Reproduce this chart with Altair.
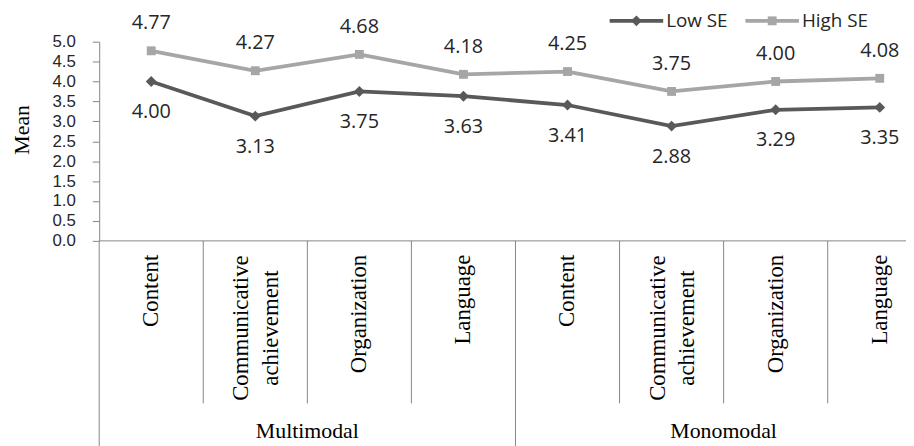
import altair as alt
import pandas as pd

# ---------------- data ----------------
groups = ["Multimodal", "Monomodal"]
criteria = ["Content", "Communicative achievement", "Organization", "Language"]
series = ["Low SE", "High SE"]
low_se = [4.00, 3.13, 3.75, 3.63, 3.41, 2.88, 3.29, 3.35]
high_se = [4.77, 4.27, 4.68, 4.18, 4.25, 3.75, 4.00, 4.08]
y_ticks = [0.0, 0.5, 1.0, 1.5, 2.0, 2.5, 3.0, 3.5, 4.0, 4.5, 5.0]

# ---------------- styling ----------------
W, H = 814, 201
CAT_W = 105.0
X_MAX = W / CAT_W
colors = {"Low SE": "#595959", "High SE": "#A6A6A6"}
shapes = {"Low SE": "diamond", "High SE": "square"}
sizes = {"Low SE": 120, "High SE": 80}
SANS = "Open Sans"
TICK_FONT = "Liberation Sans"
SERIF = "Liberation Serif"
AXIS_GRAY = "#868686"
TEXT = "#262626"

rows = []
cats = []
for gi, g in enumerate(groups):
    for ci, c in enumerate(criteria):
        idx = gi * len(criteria) + ci
        cats.append({"idx": idx, "pos": idx + 0.5, "group": g, "criterion": c,
                     "label": c.replace(" ", "\n"), "multi": 1 if " " in c else 0})
        rows.append({"pos": idx + 0.5, "series": "Low SE", "value": low_se[idx]})
        rows.append({"pos": idx + 0.5, "series": "High SE", "value": high_se[idx]})
df = pd.DataFrame(rows)
cat_df = pd.DataFrame(cats)

xs = alt.Scale(domain=[0, X_MAX], nice=False, zero=False)
ys = alt.Scale(domain=[0, 5], nice=False)
col_scale = alt.Scale(domain=series, range=[colors[s] for s in series])
XQ = alt.X("pos:Q", scale=xs, axis=None)
yaxis = alt.Axis(values=y_ticks, format=".1f", title=None, grid=False,
                 labelOverlap=False, tickCount=11,
                 domainColor=AXIS_GRAY, tickColor=AXIS_GRAY, tickSize=7,
                 labelFont=TICK_FONT, labelFontSize=17, labelColor=TEXT,
                 labelPadding=17)
YQ = alt.Y("value:Q", scale=ys, axis=yaxis)
YN = alt.Y("value:Q", scale=ys, axis=None)

base = alt.Chart(df)

lines = base.mark_line(strokeWidth=3.8).encode(
    x=XQ, y=YQ,
    color=alt.Color("series:N", scale=col_scale, legend=None),
)

point_layers = []
for s in series:
    point_layers.append(
        base.transform_filter(alt.datum.series == s).mark_point(
            filled=True, opacity=1, color=colors[s], shape=shapes[s], size=sizes[s]).encode(
            x=XQ, y=YN)
    )

lab_hi = base.transform_filter(alt.datum.series == "High SE").mark_text(
    font=SANS, fontSize=20, color=TEXT, dy=-28, baseline="middle").encode(
    x=XQ, y=YN, text=alt.Text("value:Q", format=".2f"))
lab_lo = base.transform_filter(alt.datum.series == "Low SE").mark_text(
    font=SANS, fontSize=20, color=TEXT, dy=31, baseline="middle").encode(
    x=XQ, y=YN, text=alt.Text("value:Q", format=".2f"))

# x axis line
xline = alt.Chart(pd.DataFrame({"a": [0, X_MAX]})).mark_rule(
    color=AXIS_GRAY, strokeWidth=1).encode(
    x=alt.X("min(a):Q", scale=xs, axis=None), x2=alt.X2("max(a):Q"), y=alt.value(H))

# separators
bounds = pd.DataFrame({"b": list(range(0, len(cats) + 1))})
bounds["major"] = (bounds["b"] % len(criteria) == 0).astype(int)
sep_minor = alt.Chart(bounds).transform_filter(alt.datum.major == 0).mark_rule(
    color=AXIS_GRAY, strokeWidth=1).encode(
    x=alt.X("b:Q", scale=xs, axis=None), y=alt.value(H), y2=alt.value(365))
sep_major = alt.Chart(bounds).transform_filter(alt.datum.major == 1).mark_rule(
    color=AXIS_GRAY, strokeWidth=1).encode(
    x=alt.X("b:Q", scale=xs, axis=None), y=alt.value(H), y2=alt.value(410))

cat_single = alt.Chart(cat_df).transform_filter(alt.datum.multi == 0).mark_text(
    font=SERIF, fontSize=23, color="#000000", angle=270, align="right",
    baseline="middle").encode(
    x=XQ, y=alt.value(215), text="label:N")
cat_multi = alt.Chart(cat_df).transform_filter(alt.datum.multi == 1).mark_text(
    font=SERIF, fontSize=23, color="#000000", angle=270, align="center",
    baseline="middle", lineBreak="\n", lineHeight=30, dy=-14).encode(
    x=XQ, y=alt.value(289), text="label:N")

grp_df = cat_df.groupby("group", sort=False)["pos"].mean().reset_index()
grp_text = alt.Chart(grp_df).mark_text(
    font=SERIF, fontSize=22, color="#000000", baseline="middle").encode(
    x=XQ, y=alt.value(393), text="group:N")

ytitle = alt.Chart(pd.DataFrame({"t": ["Mean"]})).mark_text(
    font=SERIF, fontSize=22, color="#000000", angle=270, align="center",
    baseline="middle").encode(x=alt.value(-78), y=alt.value(89), text="t:N")

# legend (pixel positions, no scale)
leg_start = {"Low SE": 515, "High SE": 652}
leg_df = pd.DataFrame({"series": series})
leg_df["x0"] = leg_df["series"].map(leg_start)
leg_df["x1"] = leg_df["x0"] + 54
leg_df["xm"] = leg_df["x0"] + 27
leg_df["xt"] = leg_df["x0"] + 57
leg_df["ly"] = -21
leg_line = alt.Chart(leg_df).mark_rule(strokeWidth=3.8).encode(
    x=alt.X("x0:Q", scale=None, axis=None), x2="x1:Q",
    y=alt.Y("ly:Q", scale=None, axis=None),
    color=alt.Color("series:N", scale=col_scale, legend=None))
leg_pts = []
for s in series:
    leg_pts.append(alt.Chart(leg_df).transform_filter(alt.datum.series == s).mark_point(
        filled=True, opacity=1, color=colors[s], shape=shapes[s], size=sizes[s]).encode(
        x=alt.X("xm:Q", scale=None, axis=None), y=alt.Y("ly:Q", scale=None, axis=None)))
leg_txt = alt.Chart(leg_df).mark_text(
    font=SANS, fontSize=19, color=TEXT, align="left", baseline="middle").encode(
    x=alt.X("xt:Q", scale=None, axis=None), y=alt.Y("ly:Q", scale=None, axis=None),
    text="series:N")

chart = alt.layer(
    xline, sep_minor, sep_major, lines, *point_layers, lab_hi, lab_lo,
    cat_single, cat_multi, grp_text, ytitle, leg_line, *leg_pts, leg_txt
).properties(
    width=W, height=H,
    autosize=alt.AutoSizeParams(type="none"),
    padding={"left": 92, "top": 32, "right": 0, "bottom": 205},
    background="white",
).resolve_scale(x="independent", y="independent").configure_view(stroke=None)

chart.save("out.html", embed_options={"renderer": "svg", "actions": False})
